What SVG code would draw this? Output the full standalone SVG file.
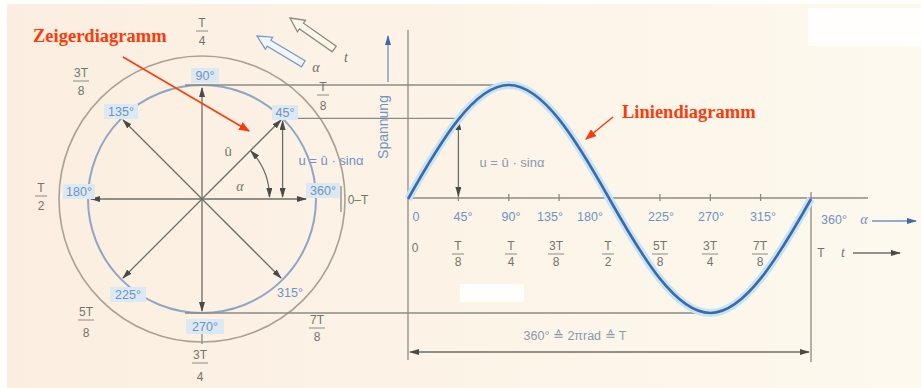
<svg xmlns="http://www.w3.org/2000/svg" width="921" height="388" viewBox="0 0 921 388">
<defs>
<linearGradient id="bg" x1="0" y1="0" x2="1" y2="0">
<stop offset="0" stop-color="#fbeee0"/>
<stop offset="0.45" stop-color="#fcf3e6"/>
<stop offset="1" stop-color="#fdf9ee"/>
</linearGradient>
<marker id="ah" viewBox="0 0 10 6" refX="9" refY="3" markerWidth="10" markerHeight="6" markerUnits="userSpaceOnUse" orient="auto-start-reverse">
<path d="M0,0 L10,3 L0,6 z" fill="#4a4a48"/>
</marker>
<marker id="ahb" viewBox="0 0 10 6" refX="9" refY="3" markerWidth="10" markerHeight="6" markerUnits="userSpaceOnUse" orient="auto-start-reverse">
<path d="M0,0 L10,3 L0,6 z" fill="#3d69a8"/>
</marker>
<marker id="ahr" viewBox="0 0 10 8" refX="9" refY="4" markerWidth="11" markerHeight="9" markerUnits="userSpaceOnUse" orient="auto">
<path d="M0,0 L10,4 L0,8 z" fill="#ff3a0a"/>
</marker>
<path id="hollow" d="M0,0 L14,-7 L14,-3.5 L54,-3.5 L54,3.5 L14,3.5 L14,7 Z"/>
</defs>
<style>
.ln{stroke:#8c8b84;stroke-width:1.3;fill:none}
.vec{stroke:#6e6e6a;stroke-width:1.3;fill:none;marker-end:url(#ah)}
.dv{stroke:#6e6e6a;stroke-width:1.3;fill:none;marker-start:url(#ah);marker-end:url(#ah)}
.deg{font-family:"Liberation Sans",Arial,sans-serif;font-size:12.5px;fill:#6f93c4;text-anchor:middle}
.frac{font-family:"Liberation Sans",Arial,sans-serif;font-size:12px;fill:#74746e;text-anchor:middle}
.bar{stroke:#8c8b84;stroke-width:1}
.lbl{fill:#dde9f2}
.it{font-family:"Liberation Serif","Times New Roman",serif;font-style:italic;font-size:14px;fill:#74746e;text-anchor:middle}
.red{font-family:"Liberation Serif","Times New Roman",serif;font-weight:bold;font-size:18.5px;fill:#ff3a0a}
</style>
<rect x="0" y="0" width="921" height="388" fill="#ffffff"/>
<rect x="7" y="4" width="914" height="384" fill="url(#bg)"/>
<rect x="808" y="8" width="113" height="38" fill="#ffffff" opacity="0.85"/>
<rect x="460" y="284" width="64" height="18" fill="#ffffff" opacity="0.85"/>

<g id="phasor-circles">
<circle cx="202" cy="199" r="143" fill="none" stroke="#a8a195" stroke-width="1.6"/>
<circle cx="202" cy="199" r="114" fill="none" stroke="#8fa6c4" stroke-width="2"/>
</g>

<g id="connectors">
<line class="ln" x1="185" y1="85" x2="509" y2="85"/>
<line class="ln" x1="283" y1="118.4" x2="458.4" y2="118.4"/>
<line class="ln" x1="185" y1="313" x2="710" y2="313"/>
<line class="ln" x1="341" y1="186" x2="341" y2="212"/>
<line class="ln" x1="202" y1="334" x2="202" y2="344"/>
<line class="vec" x1="202" y1="199" x2="202" y2="88"/>
<line class="vec" x1="202" y1="199" x2="123" y2="120"/>
<line class="vec" x1="202" y1="199" x2="91" y2="199"/>
<line class="vec" x1="202" y1="199" x2="123" y2="278"/>
<line class="vec" x1="202" y1="199" x2="202" y2="311"/>
<line class="vec" x1="202" y1="199" x2="281" y2="278"/>
<line class="vec" x1="202" y1="199" x2="306" y2="199"/>
<line class="vec" x1="202" y1="199" x2="281" y2="120"/>
<line class="dv" x1="282.6" y1="121" x2="282.6" y2="197"/>
<path class="dv" d="M250.8,150.9 A68,68 0 0 1 269.5,197"/>
<line class="ln" x1="408" y1="30" x2="408" y2="360"/>
<line class="ln" x1="408" y1="198" x2="868" y2="198"/>
<line class="ln" x1="811" y1="192" x2="811" y2="362"/>
<g class="ln">
<line x1="458.4" y1="194" x2="458.4" y2="201"/>
<line x1="508.8" y1="194" x2="508.8" y2="201"/>
<line x1="559.1" y1="194" x2="559.1" y2="201"/>
<line x1="609.5" y1="194" x2="609.5" y2="201"/>
<line x1="659.9" y1="194" x2="659.9" y2="201"/>
<line x1="710.3" y1="194" x2="710.3" y2="201"/>
<line x1="760.6" y1="194" x2="760.6" y2="201"/>
</g>
<line class="dv" x1="458.4" y1="121" x2="458.4" y2="196"/>
<line class="dv" x1="410" y1="352" x2="809" y2="352"/>
<line stroke="#6f93c4" stroke-width="1.3" x1="388" y1="82" x2="388" y2="36" marker-end="url(#ahb)"/>
<line stroke="#6f93c4" stroke-width="1.3" x1="872" y1="221" x2="916" y2="221" marker-end="url(#ahb)"/>
<line stroke="#6e6e6a" stroke-width="1.3" x1="853" y1="253" x2="900" y2="253" marker-end="url(#ah)"/>
<line stroke="#ff3a0a" stroke-width="1.5" x1="123" y1="57" x2="249" y2="131" marker-end="url(#ahr)"/>
<line stroke="#ff3a0a" stroke-width="1.5" x1="613" y1="117" x2="586" y2="139" marker-end="url(#ahr)"/>
</g>

<g id="sine-curve">
<path d="M408,199 C440.8,140.6 474.5,85 508.8,85 C543,85 576.7,140.6 609.5,199 C642.3,257.4 676,313 710.3,313 C744.5,313 778.2,257.4 811,199" fill="none" stroke="#c7e4f5" stroke-width="8"/>
<path d="M408,199 C440.8,140.6 474.5,85 508.8,85 C543,85 576.7,140.6 609.5,199 C642.3,257.4 676,313 710.3,313 C744.5,313 778.2,257.4 811,199" fill="none" stroke="#3d69a8" stroke-width="2.6"/>
</g>

<g id="rotation-arrows">
<use href="#hollow" transform="translate(290,18) rotate(35)" fill="#fdf6ea" stroke="#8c8b84" stroke-width="1.3"/>
<use href="#hollow" transform="translate(257,36) rotate(31)" fill="#f2f6fa" stroke="#7a9cc8" stroke-width="1.3"/>
<text class="it" x="316" y="72" style="fill:#6e6e6a">α</text>
<text class="it" x="346" y="62" style="fill:#6e6e6a">t</text>
</g>

<g id="degree-labels">
<rect class="lbl" x="191" y="68" width="28" height="15"/><text class="deg" x="205" y="80">90°</text>
<rect class="lbl" x="272" y="105" width="26" height="15"/><text class="deg" x="285" y="117">45°</text>
<rect class="lbl" x="104" y="104" width="34" height="15"/><text class="deg" x="121" y="116">135°</text>
<rect class="lbl" x="63" y="184" width="32" height="15"/><text class="deg" x="79" y="196">180°</text>
<rect class="lbl" x="306" y="183" width="34" height="15"/><text class="deg" x="323" y="195">360°</text>
<rect class="lbl" x="110" y="287" width="36" height="15"/><text class="deg" x="128" y="299">225°</text>
<rect class="lbl" x="186" y="319" width="38" height="15"/><text class="deg" x="205" y="331">270°</text>
<text class="deg" x="290" y="297">315°</text>
</g>

<g id="phasor-fractions">
<text class="frac" x="202" y="27">T</text><line class="bar" x1="196" y1="31" x2="208" y2="31"/><text class="frac" x="202" y="45">4</text>
<text class="frac" x="81" y="77">3T</text><line class="bar" x1="73" y1="81" x2="89" y2="81"/><text class="frac" x="81" y="95">8</text>
<text class="frac" x="323" y="91">T</text><line class="bar" x1="317" y1="95" x2="329" y2="95"/><text class="frac" x="323" y="110">8</text>
<text class="frac" x="41" y="192">T</text><line class="bar" x1="35" y1="196" x2="47" y2="196"/><text class="frac" x="41" y="210">2</text>
<text class="frac" x="358" y="204">0–T</text>
<text class="frac" x="86" y="316">5T</text><line class="bar" x1="78" y1="320" x2="94" y2="320"/><text class="frac" x="86" y="337">8</text>
<text class="frac" x="200" y="359">3T</text><line class="bar" x1="192" y1="363" x2="208" y2="363"/><text class="frac" x="200" y="381">4</text>
<text class="frac" x="317" y="324">7T</text><line class="bar" x1="309" y1="328" x2="325" y2="328"/><text class="frac" x="317" y="341">8</text>
<text class="it" x="228" y="156" style="font-style:normal;font-family:'Liberation Sans',Arial,sans-serif;font-size:13px">û</text>
<text class="it" x="240" y="191">α</text>
<text class="deg" x="331" y="165" style="font-size:13px">u = û · sinα</text>
</g>

<g id="line-diagram-labels">
<text class="deg" x="388" y="127" transform="rotate(-90 388 127)" style="font-size:14px">Spannung</text>
<text class="deg" x="512" y="167" style="font-size:13px;fill:#8a9ab0">u = û · sinα</text>
<text class="deg" x="416" y="221">0</text>
<text class="deg" x="463" y="221">45°</text>
<text class="deg" x="511" y="221">90°</text>
<text class="deg" x="550" y="221">135°</text>
<text class="deg" x="590" y="221">180°</text>
<text class="deg" x="661" y="221">225°</text>
<text class="deg" x="711" y="221">270°</text>
<text class="deg" x="763" y="221">315°</text>
<text class="deg" x="834" y="224">360°</text>
<text class="it" x="864" y="224" style="fill:#6f93c4">α</text>
<text class="frac" x="415" y="252">0</text>
<text class="frac" x="458" y="250">T</text><line class="bar" x1="452" y1="254" x2="464" y2="254"/><text class="frac" x="458" y="266">8</text>
<text class="frac" x="511" y="250">T</text><line class="bar" x1="505" y1="254" x2="517" y2="254"/><text class="frac" x="511" y="266">4</text>
<text class="frac" x="556" y="250">3T</text><line class="bar" x1="548" y1="254" x2="564" y2="254"/><text class="frac" x="556" y="266">8</text>
<text class="frac" x="608" y="250">T</text><line class="bar" x1="602" y1="254" x2="614" y2="254"/><text class="frac" x="608" y="266">2</text>
<text class="frac" x="660" y="250">5T</text><line class="bar" x1="652" y1="254" x2="668" y2="254"/><text class="frac" x="660" y="266">8</text>
<text class="frac" x="710" y="250">3T</text><line class="bar" x1="702" y1="254" x2="718" y2="254"/><text class="frac" x="710" y="266">4</text>
<text class="frac" x="760" y="250">7T</text><line class="bar" x1="752" y1="254" x2="768" y2="254"/><text class="frac" x="760" y="266">8</text>
<text class="it" x="821" y="257" style="font-style:normal;font-family:'Liberation Sans',Arial,sans-serif;font-size:12px">T</text>
<text class="it" x="843" y="257">t</text>
<text class="deg" x="575" y="340" style="font-size:12.5px;fill:#8a9ab0">360° ≙ 2πrad ≙ T</text>
</g>

<g id="annotations">
<text class="red" x="33" y="42">Zeigerdiagramm</text>
<text class="red" x="622" y="118">Liniendiagramm</text>
</g>
</svg>
